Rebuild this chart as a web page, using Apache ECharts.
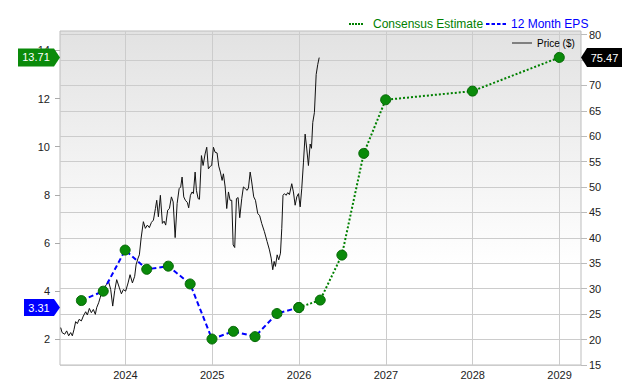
<!DOCTYPE html>
<html><head><meta charset="utf-8">
<script src="https://cdn.jsdelivr.net/npm/echarts@6/dist/echarts.min.js"></script>
<style>html,body{margin:0;padding:0;background:#fff}#c{width:640px;height:380px}</style>
</head><body><div id="c"></div>
<script>
// ---- data ----
const yearTicks = [2024, 2025, 2026, 2027, 2028, 2029];
const epsTicks = [2, 4, 6, 8, 10, 12, 14];
const priceTicks = [15, 20, 25, 30, 35, 40, 45, 50, 55, 60, 65, 70, 75, 80];

const epsDates = ['2023-06-30','2023-09-30','2023-12-31','2024-03-31','2024-06-30','2024-09-30','2024-12-31','2025-03-31','2025-06-30','2025-09-30','2025-12-31'];
const epsValues = [3.60, 3.99, 5.70, 4.90, 5.03, 4.29, 2.00, 2.32, 2.10, 3.06, 3.31];

const estDates = ['2025-12-31','2026-03-31','2026-06-30','2026-09-30','2026-12-31','2027-12-31','2028-12-31'];
const estValues = [3.31, 3.62, 5.49, 9.72, 11.95, 12.31, 13.71];

const priceYears = [2023.255,2023.271,2023.301,2023.324,2023.347,2023.370,2023.389,2023.409,2023.427,2023.447,
2023.467,2023.493,2023.516,2023.543,2023.562,2023.585,2023.608,2023.631,2023.654,2023.669,
2023.692,2023.709,2023.727,2023.755,2023.781,2023.804,2023.831,2023.854,2023.877,2023.900,
2023.931,2023.954,2023.977,2024.003,2024.031,2024.054,2024.081,2024.107,2024.123,2024.146,
2024.161,2024.181,2024.207,2024.230,2024.253,2024.276,2024.300,2024.323,2024.346,2024.361,
2024.380,2024.403,2024.426,2024.446,2024.464,2024.487,2024.507,2024.530,2024.550,2024.573,
2024.596,2024.619,2024.637,2024.653,2024.672,2024.691,2024.714,2024.729,2024.749,2024.768,
2024.783,2024.803,2024.818,2024.838,2024.853,2024.876,2024.895,2024.918,2024.937,2024.956,
2024.979,2024.994,2025.014,2025.033,2025.056,2025.075,2025.094,2025.114,2025.129,2025.149,
2025.167,2025.187,2025.206,2025.225,2025.241,2025.259,2025.279,2025.298,2025.317,2025.340,
2025.359,2025.382,2025.402,2025.417,2025.437,2025.455,2025.478,2025.498,2025.524,2025.547,
2025.570,2025.601,2025.632,2025.659,2025.679,2025.697,2025.713,2025.728,2025.748,2025.766,
2025.786,2025.801,2025.815,2025.832,2025.851,2025.870,2025.889,2025.916,2025.935,2025.955,
2025.974,2025.993,2026.013,2026.031,2026.051,2026.070,2026.089,2026.108,2026.128,2026.143,
2026.158,2026.177,2026.197,2026.215,2026.232];
const priceValues = [22.36,21.38,21.05,21.71,20.74,21.38,20.74,22.03,23.53,23.14,
23.98,23.67,24.64,25.48,24.84,26.13,25.29,25.93,24.96,26.26,
27.24,28.21,29.19,30.17,30.81,31.59,29.84,26.59,29.64,31.79,
30.17,29.00,29.84,29.52,31.14,32.76,31.14,32.45,34.71,36.02,
36.67,39.93,43.19,41.88,42.52,42.02,43.05,43.50,45.78,47.40,
44.16,48.38,42.85,43.30,42.52,45.45,45.78,48.07,47.09,40.06,
46.76,49.69,50.02,51.97,48.07,47.40,46.95,45.92,48.38,49.04,
48.71,52.95,49.35,47.73,47.60,56.19,54.24,56.52,57.83,53.59,
54.12,54.24,57.83,56.85,56.71,54.12,52.95,51.31,52.61,50.02,
45.78,49.04,47.40,47.40,38.62,38.11,47.73,47.93,43.97,47.73,
50.02,49.69,49.35,49.82,52.95,51.00,48.07,47.40,44.81,44.36,
42.85,41.23,39.28,37.64,36.02,33.74,35.38,34.40,36.67,35.69,
37.00,41.88,48.38,48.71,48.38,48.91,48.52,50.66,49.04,46.43,
48.07,48.71,46.11,49.69,54.90,60.42,57.49,54.24,58.47,57.63,
62.71,64.66,72.13,74.09,75.47];

// ---- helpers ----
function toYear(s) {
  const d = new Date(s + 'T00:00:00Z');
  const y = d.getUTCFullYear();
  const start = Date.UTC(y, 0, 1), end = Date.UTC(y + 1, 0, 1);
  return y + (d.getTime() - start) / (end - start);
}
const zip = (xs, ys) => xs.map((x, i) => [x, ys[i]]);

const X_MIN = 2023.247, X_MAX = 2029.247;
const FONT = '"Liberation Sans", Arial, sans-serif';
const GREEN = '#0a8a0a', BLUE = '#0000ff';

const lastEps = epsValues[epsValues.length - 1];
const lastEst = estValues[estValues.length - 1];
const lastPrice = priceValues[priceValues.length - 1];

function tagRight(w, h) { return 'path://M0,0H' + (w - 6) + 'L' + w + ',' + (h / 2) + 'L' + (w - 6) + ',' + h + 'H0Z'; }
function tagLeft(w, h) { return 'path://M0,' + (h / 2) + 'L6,0H' + w + 'V' + h + 'H6Z'; }

const dottedIcon = 'path://M0,0h2v2h-2zM3,0h2v2h-2zM6,0h2v2h-2zM9,0h2v2h-2zM12,0h2v2h-2zM19,2';
const dashedIcon = 'path://M0,0h3.5v2h-3.5zM5.5,0h3.5v2h-3.5zM11,0h3.5v2h-3.5zM16.5,0h3.5v2h-3.5z';

const chart = echarts.init(document.getElementById('c'), null, { renderer: 'svg', width: 640, height: 380 });

const tagLabel = (dx) => ({
  show: true, position: 'inside', color: '#fff', fontSize: 11, fontFamily: FONT,
  offset: [dx, 0], formatter: p => Number(p.value).toFixed(2)
});

chart.setOption({
  animation: false,
  backgroundColor: '#fff',
  textStyle: { fontFamily: FONT },
  grid: {
    left: 60, right: 59, top: 31, bottom: 12, show: true,
    borderColor: '#bdbdbd', borderWidth: 1,
    backgroundColor: { type: 'linear', x: 0, y: 0, x2: 0, y2: 1,
      colorStops: [{ offset: 0, color: '#e2e2e2' }, { offset: 0.7, color: '#ffffff' }, { offset: 1, color: '#ffffff' }] }
  },
  legend: [
    { left: 344, top: 13, itemWidth: 19, itemHeight: 2, selectedMode: false,
      textStyle: { fontSize: 12, fontFamily: FONT, color: '#008000' },
      data: [{ name: 'Consensus Estimate', icon: dottedIcon, itemStyle: { color: '#008000', borderWidth: 0 } }] },
    { left: 481, top: 13, itemWidth: 20, itemHeight: 2, selectedMode: false,
      textStyle: { fontSize: 12, fontFamily: FONT, color: BLUE },
      data: [{ name: '12 Month EPS', icon: dashedIcon, itemStyle: { color: BLUE, borderWidth: 0 } }] },
    { left: 507, top: 33, itemWidth: 20, itemHeight: 2, selectedMode: false,
      textStyle: { fontSize: 10, fontFamily: FONT, color: '#000' },
      data: [{ name: 'Price ($)', icon: 'path://M0,0H20V2H0Z', itemStyle: { color: '#808080', borderWidth: 0 } }] }
  ],
  xAxis: {
    type: 'value', min: X_MIN, max: X_MAX,
    axisLine: { show: false }, axisTick: { show: false, customValues: yearTicks },
    axisLabel: { customValues: yearTicks, fontSize: 11, color: '#222', margin: 4, formatter: v => String(Math.round(v)) },
    splitLine: { show: true, lineStyle: { color: '#cccccc', width: 1 } }
  },
  yAxis: [
    { type: 'value', position: 'left', min: 0.92, max: 14.81,
      axisLine: { show: false },
      axisTick: { show: true, customValues: epsTicks, length: 5, lineStyle: { color: '#aaaaaa' } },
      axisLabel: { customValues: epsTicks, fontSize: 11, color: '#222', margin: 10 },
      splitLine: { show: false } },
    { type: 'value', position: 'right', min: 15, max: 80.7,
      axisLine: { show: false },
      axisTick: { show: true, customValues: priceTicks, length: 6, lineStyle: { color: '#bbbbbb' } },
      axisLabel: { customValues: priceTicks, fontSize: 11, color: '#222', margin: 8 },
      splitLine: { show: true, lineStyle: { color: '#cccccc', width: 1 } } }
  ],
  series: [
    { name: 'Price ($)', type: 'line', yAxisIndex: 1, z: 2,
      data: zip(priceYears, priceValues), showSymbol: false, symbol: 'none',
      lineStyle: { color: '#111', width: 1 }, itemStyle: { color: '#111' },
      markPoint: { symbol: tagLeft(41, 19), symbolSize: [41, 19], symbolOffset: [20.5, 0],
        itemStyle: { color: '#000' }, label: tagLabel(3),
        data: [{ coord: [X_MAX, lastPrice], value: lastPrice }] } },
    { name: 'Consensus Estimate', type: 'line', yAxisIndex: 0, z: 3,
      data: estDates.map((d, i) => [toYear(d), estValues[i]]),
      symbol: 'circle', symbolSize: 10,
      lineStyle: { color: '#008000', width: 2, type: [2, 2] },
      itemStyle: { color: GREEN, borderColor: '#066806', borderWidth: 1 },
      markPoint: { symbol: tagRight(42, 18), symbolSize: [42, 18], symbolOffset: [-21, 0],
        itemStyle: { color: '#0a8a0a', borderWidth: 0 }, label: tagLabel(-3),
        data: [{ coord: [X_MIN, lastEst], value: lastEst }] } },
    { name: '12 Month EPS', type: 'line', yAxisIndex: 0, z: 4,
      data: epsDates.map((d, i) => [toYear(d), epsValues[i]]),
      symbol: 'circle', symbolSize: 10,
      lineStyle: { color: BLUE, width: 2, type: [5, 3] },
      itemStyle: { color: GREEN, borderColor: '#066806', borderWidth: 1 },
      markPoint: { symbol: tagRight(36, 17), symbolSize: [36, 17], symbolOffset: [-18, 0],
        itemStyle: { color: BLUE, borderWidth: 0 }, label: tagLabel(-3),
        data: [{ coord: [X_MIN, lastEps], value: lastEps }] } }
  ]
});
</script></body></html>
